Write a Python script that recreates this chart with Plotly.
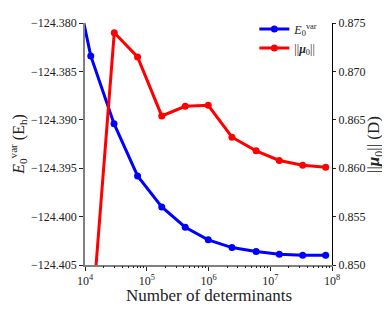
import plotly.graph_objects as go

# Data
ndet_E = [5.2e3, 1.24e4, 2.95e4, 7.1e4, 1.75e5, 4.2e5, 9.9e5, 2.4e6, 5.9e6, 1.4e7, 3.35e7, 7.9e7]
E_var = [-124.3720, -124.3834, -124.3904, -124.3958, -124.3990, -124.4011, -124.4024,
         -124.4032, -124.4036, -124.4039, -124.4040, -124.4040]
ndet_mu = [1.24e4, 2.98e4, 7.1e4, 1.75e5, 4.2e5, 9.9e5, 2.4e6, 5.9e6, 1.4e7, 3.35e7, 7.9e7]
mu_norm = [0.8430, 0.8740, 0.8715, 0.8654, 0.8664, 0.8665, 0.8632, 0.8618, 0.8608, 0.8603, 0.8601]

left_ticks = [-124.380, -124.385, -124.390, -124.395, -124.400, -124.405]
right_ticks = [0.850, 0.855, 0.860, 0.865, 0.870, 0.875]
x_exps = [4, 5, 6, 7, 8]
major_x = [10 ** e for e in x_exps]
minor_x = [m * 10 ** e for e in range(4, 8) for m in range(2, 10)]

FONT = "Liberation Serif"
TXT = "#222"

fig = go.Figure()
fig.add_trace(go.Scatter(
    x=ndet_E, y=E_var, mode="lines+markers", name="<i>E</i><sub>0</sub><sup>var</sup>",
    line=dict(color="#0000ff", width=3), marker=dict(color="#0000ff", size=7),
    xaxis="x", yaxis="y", cliponaxis=True))
fig.add_trace(go.Scatter(
    x=ndet_mu, y=mu_norm, mode="lines+markers", name="||<b><i>μ</i></b><sub>0</sub>||",
    line=dict(color="#ff0000", width=3), marker=dict(color="#ff0000", size=7),
    xaxis="x", yaxis="y2", cliponaxis=True))

# page body has an 8px margin, so the figure is drawn 8px smaller and offset
fig.update_layout(
    width=382, height=304,
    margin=dict(l=77, r=58, t=7, b=47),
    paper_bgcolor="white", plot_bgcolor="white",
    font=dict(family=FONT, color=TXT, size=12),
    showlegend=True,
    legend=dict(x=0.965, y=1.035, xanchor="right", yanchor="top",
                bgcolor="rgba(0,0,0,0)", font=dict(size=12, family=FONT, color=TXT),
                itemwidth=30, tracegroupgap=0),
    xaxis=dict(type="log", range=[4, 8], tickvals=major_x,
               ticktext=["10<sup>%d</sup>" % e for e in x_exps],
               showgrid=False, zeroline=False,
               showline=True, linecolor="#808080", linewidth=1.5, mirror=False,
               ticks="outside", ticklen=4, tickcolor=TXT,
               tickfont=dict(size=12, family=FONT)),
    xaxis2=dict(overlaying="x", side="top", anchor="y", range=[0, 1], showline=True, linecolor="black",
                linewidth=1, showticklabels=False, ticks="", showgrid=False, zeroline=False),
    xaxis3=dict(type="log", range=[4, 8], overlaying="x", side="bottom", anchor="y",
                tickvals=minor_x, showticklabels=False, ticks="outside", ticklen=2,
                tickcolor=TXT, showline=False, showgrid=False, zeroline=False),
    yaxis=dict(range=[-124.405, -124.380], tickvals=left_ticks,
               ticktext=["\u2212%.3f" % abs(v) for v in left_ticks],
               showgrid=False, zeroline=False,
               showline=True, linecolor="#808080", linewidth=1.5,
               ticks="outside", ticklen=4, tickcolor=TXT,
               tickfont=dict(size=12, family=FONT)),
    yaxis2=dict(range=[0.850, 0.875], tickvals=right_ticks,
                ticktext=["%.3f" % v for v in right_ticks],
                overlaying="y", side="right", anchor="x",
                showgrid=False, zeroline=False,
                showline=True, linecolor="black", linewidth=1,
                ticks="outside", ticklen=3, tickcolor=TXT,
                tickfont=dict(size=12, family=FONT)),
    annotations=[
        dict(text="<i>E</i><sub>0</sub><sup>var</sup> (E<sub>h</sub>)", textangle=-90,
             xref="paper", yref="paper", x=-0.272, y=0.5, xanchor="center", yanchor="middle",
             showarrow=False, font=dict(size=16, family=FONT, color=TXT)),
        dict(text="||<b><i>μ</i></b><sub>0</sub>|| (D)", textangle=-90,
             xref="paper", yref="paper", x=1.174, y=0.5, xanchor="center", yanchor="middle",
             showarrow=False, font=dict(size=17, family=FONT, color=TXT)),
        dict(text="Number of determinants",
             xref="paper", yref="paper", x=0.5, y=-0.128, xanchor="center", yanchor="middle",
             showarrow=False, font=dict(size=17, family=FONT, color=TXT)),
    ],
)

fig.add_trace(go.Scatter(x=[1e5], y=[None], xaxis="x3", yaxis="y", showlegend=False,
                         hoverinfo="skip"))

fig.write_html("out.html")
